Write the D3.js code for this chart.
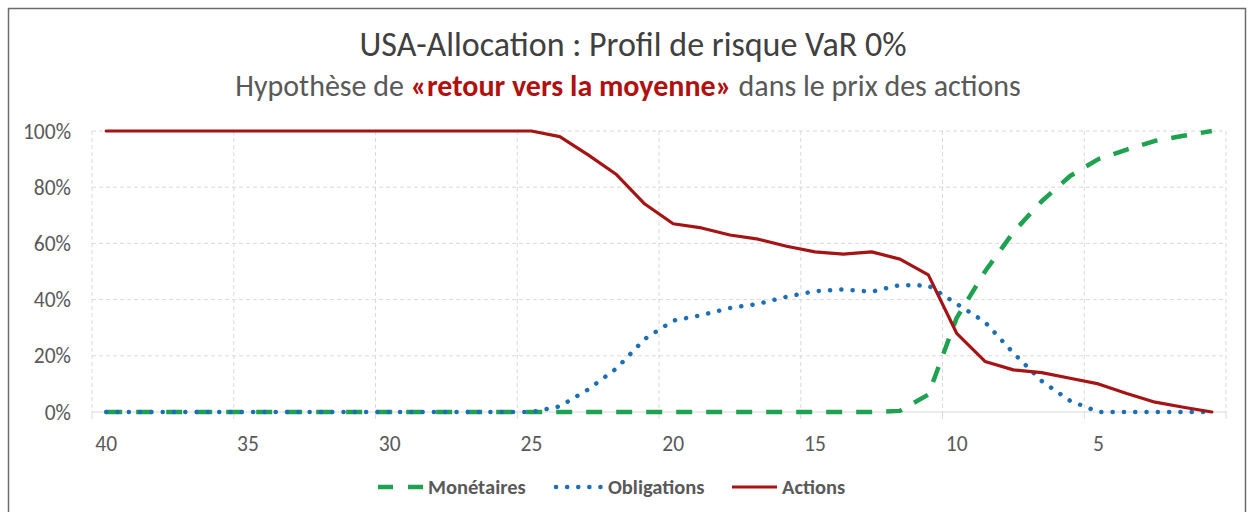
<!DOCTYPE html>
<html>
<head>
<meta charset="utf-8">
<script src="https://cdn.jsdelivr.net/npm/d3@7"></script>
<style>
  body { margin: 0; background: #fff; }
  svg { display: block; font-family: Calibri, Lato, "Open Sans", sans-serif; }
</style>
</head>
<body>
<div id="app"></div>
<script>
// categories = years to horizon, read right to left
const categories = [40, 39, 38, 37, 36, 35, 34, 33, 32, 31, 30, 29, 28, 27, 26, 25, 24, 23, 22, 21,
                    20, 19, 18, 17, 16, 15, 14, 13, 12, 11, 10, 9, 8, 7, 6, 5, 4, 3, 2, 1];
const tickCategories = [40, 35, 30, 25, 20, 15, 10, 5];
const yTicks = [0, 20, 40, 60, 80, 100];

const monetaires = [0, 0, 0, 0, 0, 0, 0, 0, 0, 0, 0, 0, 0, 0, 0, 0, 0, 0, 0, 0,
                    0, 0, 0, 0, 0, 0, 0, 0, 0.4, 6.2, 33.5, 50, 64, 75, 84, 90, 93.4, 96.5, 98.3, 100];
const obligations = [0, 0, 0, 0, 0, 0, 0, 0, 0, 0, 0, 0, 0, 0, 0, 0, 2, 8, 15.5, 26,
                     32.5, 34.5, 37, 38.5, 41, 43, 43.6, 42.8, 45.2, 45, 38.5, 32, 21, 11, 4, 0, 0, 0, 0, 0];
const actions = [100, 100, 100, 100, 100, 100, 100, 100, 100, 100, 100, 100, 100, 100, 100, 100, 98, 91.5, 84.5, 74,
                 67, 65.5, 63, 61.5, 59, 57, 56.2, 57, 54.4, 48.8, 28, 18, 15, 14, 12, 10, 6.6, 3.5, 1.7, 0];

const seriesNames = ["Monétaires", "Obligations", "Actions"];
const seriesColors = ["#1fa24f", "#1c6fb6", "#a51414"];

function plotChart() {
    const svgWidth = 1247;
    const svgHeight = 512;
    const margin = { top: 131, bottom: 100, left: 92, right: 21 };
    const width = svgWidth - margin.left - margin.right;
    const height = svgHeight - margin.top - margin.bottom;

    const svg = d3.select("#app").append("svg")
        .attr("width", svgWidth)
        .attr("height", svgHeight);

    // chart frame
    svg.append("rect")
        .attr("x", 8.5).attr("y", 8.5)
        .attr("width", 1237).attr("height", 520)
        .attr("fill", "none")
        .attr("stroke", "#6b6b6b")
        .attr("stroke-width", 1.5);

    // titles
    svg.append("text")
        .attr("x", 633).attr("y", 56)
        .attr("text-anchor", "middle")
        .attr("font-size", 34)
        .attr("fill", "#404040")
        .text("USA-Allocation : Profil de risque VaR 0%");

    const sub = svg.append("text")
        .attr("x", 628).attr("y", 96)
        .attr("text-anchor", "middle")
        .attr("font-size", 30)
        .attr("fill", "#595959");
    sub.append("tspan").text("Hypothèse de ");
    sub.append("tspan").attr("font-weight", "bold").attr("fill", "#b01010").text("«retour vers la moyenne»");
    sub.append("tspan").text(" dans le prix des actions");

    const x = d3.scaleBand()
        .domain(categories)
        .range([0, width])
        .paddingInner(0).paddingOuter(0);
    const cx = d => x(d) + x.bandwidth() / 2;

    const y = d3.scaleLinear()
        .domain([0, 100])
        .range([height, 0]);

    const chart = svg.append("g")
        .attr("transform", "translate(" + margin.left + "," + margin.top + ")");

    // horizontal grid
    chart.selectAll(".hgrid")
        .data(yTicks)
        .enter()
        .append("line")
        .attr("x1", 0).attr("x2", width)
        .attr("y1", d => y(d)).attr("y2", d => y(d))
        .attr("stroke", "#d9d9d9")
        .attr("stroke-width", 1)
        .attr("stroke-dasharray", d => d === 0 ? null : "4,3");

    // vertical grid at every 5th category boundary, with small ticks below the axis
    const vLines = tickCategories.map(c => x(c)).concat([width]);
    chart.selectAll(".vgrid")
        .data(vLines)
        .enter()
        .append("line")
        .attr("x1", d => d).attr("x2", d => d)
        .attr("y1", 0).attr("y2", height)
        .attr("stroke", "#d9d9d9")
        .attr("stroke-width", 1)
        .attr("stroke-dasharray", "4,3");
    chart.selectAll(".vtick")
        .data(vLines)
        .enter()
        .append("line")
        .attr("x1", d => d).attr("x2", d => d)
        .attr("y1", height).attr("y2", height + 7)
        .attr("stroke", "#d9d9d9");

    // y labels
    chart.selectAll(".ylabel")
        .data(yTicks)
        .enter()
        .append("text")
        .attr("x", -21)
        .attr("y", d => y(d))
        .attr("dy", "0.35em")
        .attr("text-anchor", "end")
        .attr("font-size", 21.5)
        .attr("fill", "#595959")
        .text(d => d + "%");

    // x labels
    chart.selectAll(".xlabel")
        .data(tickCategories)
        .enter()
        .append("text")
        .attr("x", d => cx(d))
        .attr("y", height + 31)
        .attr("dy", "0.35em")
        .attr("text-anchor", "middle")
        .attr("font-size", 21.5)
        .attr("fill", "#595959")
        .text(d => d);

    const line = d3.line()
        .x((d, i) => cx(categories[i]))
        .y(d => y(d));

    const styles = [
        { width: 4.5, dash: "16,14", cap: "butt" },
        { width: 4.5, dash: "0.1,11.2", cap: "round" },
        { width: 3.2, dash: null, cap: "round" }
    ];

    chart.selectAll(".serie")
        .data([monetaires, obligations, actions])
        .enter()
        .append("path")
        .attr("d", d => line(d))
        .attr("fill", "none")
        .attr("stroke", (d, i) => seriesColors[i])
        .attr("stroke-width", (d, i) => styles[i].width)
        .attr("stroke-dasharray", (d, i) => styles[i].dash)
        .attr("stroke-linecap", (d, i) => styles[i].cap)
        .attr("stroke-linejoin", "round");

    // legend
    const legend = svg.append("g").attr("transform", "translate(0,487)");
    const legendX = [378, 553, 732];
    const sampleW = [45, 50, 45];
    const item = legend.selectAll(".item")
        .data(seriesNames)
        .enter()
        .append("g")
        .attr("transform", (d, i) => "translate(" + legendX[i] + ",0)");
    item.append("line")
        .attr("x1", 0).attr("x2", (d, i) => sampleW[i])
        .attr("y1", 0).attr("y2", 0)
        .attr("stroke", (d, i) => seriesColors[i])
        .attr("stroke-width", (d, i) => styles[i].width)
        .attr("stroke-dasharray", (d, i) => i === 0 ? "15,15" : (i === 1 ? "0.1,11" : null))
        .attr("stroke-linecap", (d, i) => i === 1 ? "round" : "butt")
        .attr("transform", (d, i) => i === 1 ? "translate(3,0)" : null);
    item.append("text")
        .attr("x", (d, i) => sampleW[i] + 5)
        .attr("dy", "0.35em")
        .attr("font-size", 20.5)
        .attr("font-weight", "bold")
        .attr("fill", "#595959")
        .text(d => d);
}

plotChart();
</script>
</body>
</html>
